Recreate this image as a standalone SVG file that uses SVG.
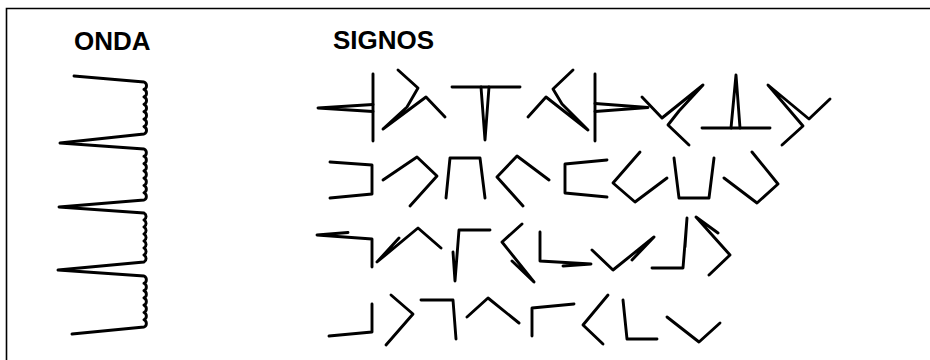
<svg xmlns="http://www.w3.org/2000/svg" width="930" height="360" viewBox="0 0 930 360">
<style>
.frame{fill:none;stroke:#000;stroke-width:1.6}
.s{fill:none;stroke:#000;stroke-width:2.9;stroke-linejoin:round;stroke-linecap:round}
.t{font-family:"Liberation Sans",Arial,sans-serif;font-weight:bold;font-size:26px;fill:#000}
</style>
<rect width="930" height="360" fill="#fff"/>
<path class="frame" d="M6.5,362 V8.5 H932"/>
<g id="labels">
<text class="t" x="74" y="50">ONDA</text>
<text class="t" x="333" y="49">SIGNOS</text>
</g>
<g id="onda">
<path class="s" d="M74,76 L144,82 a4,4 0 0 1 0,7.43 a4,4 0 0 1 0,7.43 a4,4 0 0 1 0,7.43 a4,4 0 0 1 0,7.43 a4,4 0 0 1 0,7.43 a4,4 0 0 1 0,7.43 a4,4 0 0 1 0,7.43 L60,143 L144,149 a4,4 0 0 1 0,7.29 a4,4 0 0 1 0,7.29 a4,4 0 0 1 0,7.29 a4,4 0 0 1 0,7.29 a4,4 0 0 1 0,7.29 a4,4 0 0 1 0,7.29 a4,4 0 0 1 0,7.29 L59,207 L144,213 a4,4 0 0 1 0,7 a4,4 0 0 1 0,7 a4,4 0 0 1 0,7 a4,4 0 0 1 0,7 a4,4 0 0 1 0,7 a4,4 0 0 1 0,7 a4,4 0 0 1 0,7 L58,270 L144,276 a4,4 0 0 1 0,7.29 a4,4 0 0 1 0,7.29 a4,4 0 0 1 0,7.29 a4,4 0 0 1 0,7.29 a4,4 0 0 1 0,7.29 a4,4 0 0 1 0,7.29 a4,4 0 0 1 0,7.29 L72,334"/>
</g>
<g id="signos">
<g id="fila1">
<polyline class="s" points="373,74 373,141"/>
<polyline class="s" points="373,104.5 318,108 373,111.5"/>
<polyline class="s" points="398,70 418,88 407,107 383,129 426,97 445,117"/>
<polyline class="s" points="452,87 520,87"/>
<polyline class="s" points="481,87 485,140 489,87"/>
<polyline class="s" points="573,70 553,89 562,104 588,130 546,97 528,117"/>
<polyline class="s" points="595,74 595,141"/>
<polyline class="s" points="595,103.5 648,107.5 595,111.5"/>
<polyline class="s" points="642,97 662,118 703,85 679,111 668,125 689,145"/>
<polyline class="s" points="702,128 770,128"/>
<polyline class="s" points="731,128 736,75 740,128"/>
<polyline class="s" points="830,99 809,119 768,85 803,126 782,145"/>
</g>
<g id="fila2">
<polyline class="s" points="330,162 372,165 372,194 330,198"/>
<polyline class="s" points="383,180 417,157 437,176 410,206"/>
<polyline class="s" points="446,198 450,158 480,158 485,198"/>
<polyline class="s" points="549,180 517,156 497,177 523,206"/>
<polyline class="s" points="607,160 565,164 565,193 607,197"/>
<polyline class="s" points="640,152 613,183 635,202 667,178"/>
<polyline class="s" points="674,158 679,198 709,198 714,158"/>
<polyline class="s" points="724,178 757,203 778,184 752,152"/>
</g>
<g id="fila3">
<polyline class="s" points="348,232.5 317,235 372,239 372,267"/>
<polyline class="s" points="399,238 377,262 418,228 441,248"/>
<polyline class="s" points="490,230 459,230 455,281 453,252"/>
<polyline class="s" points="522,224 502,242 534,282 512,261"/>
<polyline class="s" points="540,232 540,261 591,264 563,266"/>
<polyline class="s" points="592,250 613,270 654,237 632,260"/>
<polyline class="s" points="652,268 683,268 687,218 685,247"/>
<polyline class="s" points="718,233 696,217 730,255 709,275"/>
</g>
<g id="fila4">
<polyline class="s" points="329,336 372,332 372,304"/>
<polyline class="s" points="391,295 413,314 386,345"/>
<polyline class="s" points="421,300 453,300 456,339"/>
<polyline class="s" points="467,317 488,298 519,323"/>
<polyline class="s" points="574,304 532,308 532,336"/>
<polyline class="s" points="608,295 583,325 603,344"/>
<polyline class="s" points="623,300 627,339 657,339"/>
<polyline class="s" points="667,317 699,342 720,323"/>
</g>
</g>
</svg>
